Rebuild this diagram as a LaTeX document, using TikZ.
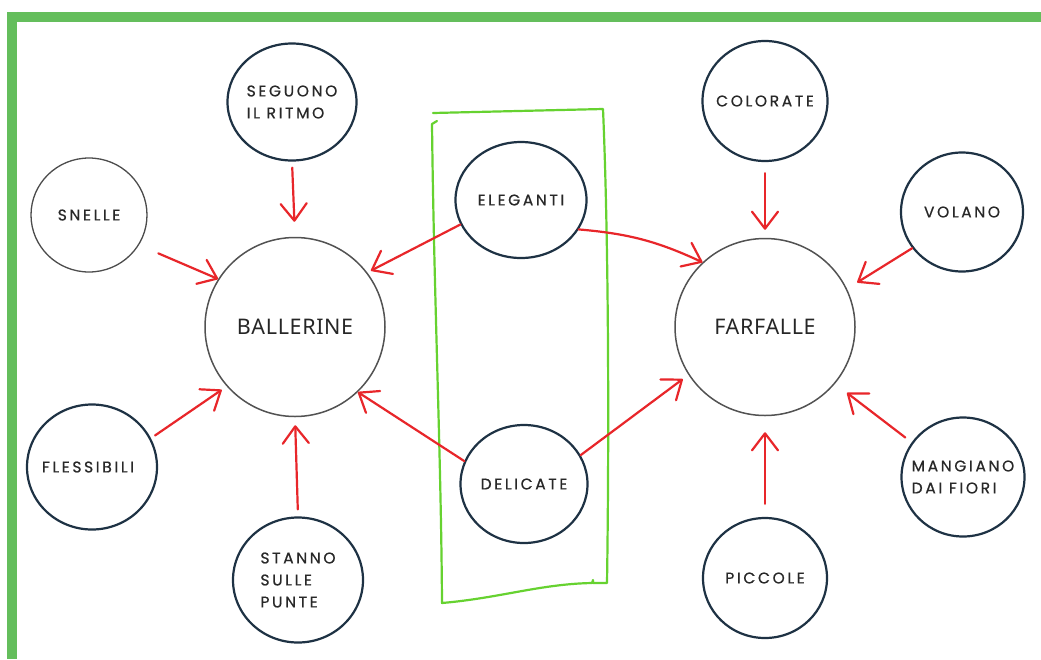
\documentclass[tikz,border=0pt]{standalone}
\usepackage{fontspec}
\usetikzlibrary{arrows.meta,shapes.geometric}
\newfontfamily\handfont[LetterSpace=17,FakeBold=0.6]{Poppins}
\newfontfamily\bigfont[LetterSpace=3]{Noto Sans}
\definecolor{framegreen}{RGB}{100,190,92}
\definecolor{boxgreen}{RGB}{102,210,48}
\definecolor{arrred}{RGB}{232,38,42}
\definecolor{navy}{RGB}{30,50,68}
\definecolor{txt}{RGB}{40,40,40}
\tikzset{
  small/.style={ellipse, draw=navy, line width=2.2pt, inner sep=0pt},
  thin/.style={small, draw=black!70, line width=1.3pt},
  lab/.style={text=txt, font={\handfont\fontsize{15.5}{22}\selectfont}, align=left, inner sep=0pt},
  big/.style={ellipse, draw=black!68, line width=1.5pt, inner sep=0pt, text=black!85,
    font={\bigfont\fontsize{21.5}{24}\selectfont}},
  arr/.style={draw=arrred, line width=2.2pt, line cap=round,
    -{Straight Barb[length=17pt,width=26pt,round]}},
  gbox/.style={draw=boxgreen, line width=2.2pt, line cap=round, line join=round}
}
\begin{document}
\begin{tikzpicture}[x=1pt,y=-1pt]
\useasboundingbox (0,0) rectangle (1041,659);
\fill[white] (0,0) rectangle (1041,659);
% frame
\fill[framegreen] (7,12) rectangle (1041,22);
\fill[framegreen] (7,12) rectangle (17,659);
% green box
\draw[gbox] (437,121) -- (432,124) .. controls (434,300) and (441,450) .. (442,603)
  .. controls (500,598) and (540,584) .. (592,583) -- (593,580) -- (593,583) -- (607,583)
  .. controls (609,450) and (609,250) .. (603,109) -- (433,113);
% nodes
\node[big, minimum width=180pt, minimum height=179pt] (bal) at (295,327) {BALLERINE};
\node[big, minimum width=180pt, minimum height=177pt] (far) at (765,327) {FARFALLE};
\node[small, minimum width=129pt, minimum height=117pt, label={[lab]center:SEGUONO\\IL RITMO}] (seg) at (292,102) {};
\node[thin, minimum width=116pt, minimum height=114pt, label={[lab]center:SNELLE}] (sne) at (89,215) {};
\node[small, minimum width=130pt, minimum height=125pt, label={[lab, xshift=-4pt]center:FLESSIBILI}] (fle) at (92,467) {};
\node[small, minimum width=130pt, minimum height=125pt, label={[lab]center:STANNO\\SULLE\\PUNTE}] (sta) at (298,580) {};
\node[small, minimum width=131pt, minimum height=116pt, label={[lab]center:ELEGANTI}] (ele) at (521,200) {};
\node[small, minimum width=127pt, minimum height=118pt, label={[lab]center:DELICATE}] (del) at (524,484) {};
\node[small, minimum width=125pt, minimum height=120pt, label={[lab]center:COLORATE}] (col) at (765,101) {};
\node[small, minimum width=122pt, minimum height=119pt, label={[lab]center:VOLANO}] (vol) at (962,212) {};
\node[small, minimum width=123pt, minimum height=119pt, label={[lab]center:MANGIANO\\DAI FIORI}] (man) at (963,477) {};
\node[small, minimum width=124pt, minimum height=120pt, label={[lab]center:PICCOLE}] (pic) at (765,578) {};
% arrows
\draw[arr, shorten <=6pt, shorten >=15pt] (seg.-90) -- (bal.90);
\draw[arr, shorten <=21pt] (sne.-31) -- (bal.148);
\draw[arr, shorten >=4pt] (ele.202) -- (bal.37);
\draw[arr] (ele.-27) to[bend left=10] (far.134);
\draw[arr, shorten >=12pt] (vol.216) -- (far.25);
\draw[arr, shorten <=11pt, shorten >=8pt] (col.-90) -- (far.90);
\draw[arr, shorten <=5pt, shorten >=6pt] (fle.26) -- (bal.221);
\draw[arr, shorten <=7pt, shorten >=8pt] (sta.90) -- (bal.-90);
\draw[arr] (del.159) -- (bal.-46);
\draw[arr, shorten >=7pt] (del.27) -- (far.212);
\draw[arr, shorten <=13pt, shorten >=16pt] (pic.90) -- (far.-90);
\draw[arr, shorten <=8pt, shorten >=15pt] (man.146) -- (far.-39);
\end{tikzpicture}
\end{document}
